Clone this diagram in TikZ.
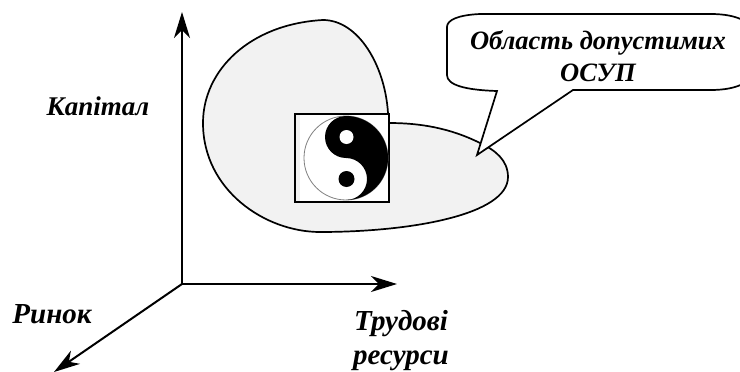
\documentclass[tikz,border=0pt]{standalone}
\usepackage{fontspec}
\setmainfont{Liberation Serif}
\usetikzlibrary{arrows.meta}
\tikzset{
  axisline/.style={line width=2pt,-{Stealth[length=26pt,width=16pt,inset=8pt]}},
  outline/.style={line width=1.7pt,black},
  lbl/.style={font=\fontsize{27}{34}\selectfont\bfseries\itshape,align=center,inner sep=0pt},
  lblbig/.style={font=\fontsize{29}{34}\selectfont\bfseries\itshape,align=center,inner sep=0pt},
  calllbl/.style={font=\fontsize{26.5}{32}\selectfont\bfseries\itshape,align=center,inner sep=0pt},
}
\begin{document}
\begin{tikzpicture}[x=1pt,y=-1pt]
\useasboundingbox (0,0) rectangle (740,372);
\clip (0,0) rectangle (740,372);
% region
\fill[black!5] (323,20) .. controls (250,24) and (203,70) .. (203,123)
  .. controls (203,190) and (265,232) .. (320,232)
  .. controls (410,232) and (508,215) .. (508,177)
  .. controls (508,160) and (495,150) .. (480,143)
  .. controls (450,128) and (420,123) .. (389,123)
  -- (388,113) .. controls (385,65) and (358,20) .. (323,20) -- cycle;
\draw[outline] (388,113) .. controls (385,65) and (358,20) .. (323,20)
  .. controls (250,24) and (203,70) .. (203,123)
  .. controls (203,190) and (265,232) .. (320,232)
  .. controls (410,232) and (508,215) .. (508,177)
  .. controls (508,160) and (495,150) .. (480,143)
  .. controls (450,128) and (420,123) .. (389,123);
% yin-yang box
\node[draw,line width=1.7pt,fill=white,minimum width=94pt,minimum height=88pt,inner sep=0pt] (box) at (342,158) {};
\fill[black!5] (296,115) rectangle (300,201);
\coordinate (yy) at (346,158);
\draw[gray,line width=0.8pt] (yy) circle[radius=42];
\fill[black] (346,116) arc[start angle=-90,end angle=90,radius=42]
  arc[start angle=90,end angle=-90,radius=21]
  arc[start angle=90,end angle=270,radius=21] -- cycle;
\fill[white] (346.5,137) circle[radius=7];
\fill[black] (346.5,179) circle[radius=8];
% callout
\draw[outline,fill=white] (497,91) -- (477,155) -- (573,90)
  -- (710,90) .. controls (725,90) and (735,88) .. (745,83)
  -- (745,21) .. controls (735,16) and (725,14) .. (710,14)
  -- (480,14) .. controls (458,15) and (447,20) .. (447,27)
  -- (447,75) .. controls (447,85) and (465,90) .. (497,91) -- cycle;
\node[calllbl] (calltext) at (598,56) {Область допустимих\\ОСУП};
% axes
\coordinate (origin) at (182,284);
\coordinate (captip) at (182,12);
\coordinate (labtip) at (397,284);
\coordinate (mktip) at (54,372);
\draw[axisline] (origin) -- (captip);
\draw[axisline] (origin) -- (labtip);
\draw[axisline] (origin) -- (mktip);
% labels
\node[lbl] (cap) at (98,106) {Капітал};
\node[lblbig] (mkt) at (52,314) {Ринок};
\node[lblbig] (lab) at (401,341) {Трудові\\ресурси};
\end{tikzpicture}
\end{document}
